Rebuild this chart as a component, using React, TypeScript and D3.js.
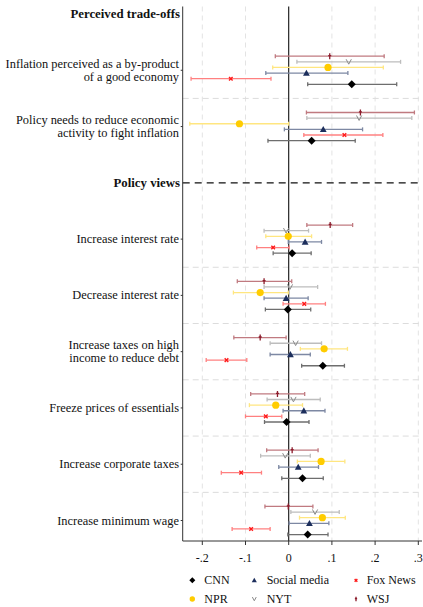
import * as d3 from 'd3';

// questions (rows 1-2 and 4-9; row 0 and 3 are section headers)
const questions = [
  ['Inflation perceived as a by-product', 'of a good economy'],
  ['Policy needs to reduce economic', 'activity to fight inflation'],
  ['Increase interest rate'],
  ['Decrease interest rate'],
  ['Increase taxes on high', 'income to reduce debt'],
  ['Freeze prices of essentials'],
  ['Increase corporate taxes'],
  ['Increase minimum wage'],
];
const questionRows = [1, 2, 4, 5, 6, 7, 8, 9];
const headers = [
  { row: 0, label: 'Perceived trade-offs' },
  { row: 3, label: 'Policy views' },
];
const separatorRows = [1.5, 4.5, 5.5, 6.5, 7.5, 8.5];
const xTicks = [-0.2, -0.1, 0, 0.1, 0.2, 0.3];
const xTickLabels = ['-.2', '-.1', '0', '.1', '.2', '.3'];

const wsjEst = [0.095, 0.166, 0.096, -0.057, -0.066, -0.026, 0.008, -0.001];
const wsjLo = [-0.031, 0.041, 0.042, -0.119, -0.127, -0.088, -0.051, -0.055];
const wsjHi = [0.221, 0.291, 0.148, 0.007, -0.006, 0.037, 0.068, 0.056];

const nytEst = [0.139, 0.163, -0.006, 0.003, 0.016, 0.011, -0.008, 0.061];
const nytLo = [0.019, 0.042, -0.057, -0.057, -0.043, -0.05, -0.065, 0.005];
const nytHi = [0.259, 0.285, 0.046, 0.067, 0.076, 0.073, 0.05, 0.117];

const nprEst = [0.091, -0.114, -0.001, -0.066, 0.082, -0.03, 0.075, 0.078];
const nprLo = [-0.037, -0.229, -0.053, -0.128, 0.027, -0.091, 0.02, 0.025];
const nprHi = [0.219, 0.0, 0.053, -0.001, 0.136, 0.032, 0.13, 0.131];

const socialEst = [0.041, 0.08, 0.038, -0.006, 0.004, 0.035, 0.022, 0.048];
const socialLo = [-0.053, -0.01, -0.001, -0.057, -0.043, -0.013, -0.023, 0.001];
const socialHi = [0.137, 0.171, 0.076, 0.045, 0.05, 0.084, 0.069, 0.093];

const foxEst = [-0.134, 0.129, -0.036, 0.036, -0.144, -0.053, -0.11, -0.087];
const foxLo = [-0.226, 0.035, -0.074, -0.013, -0.191, -0.1, -0.156, -0.131];
const foxHi = [-0.041, 0.218, 0.001, 0.085, -0.097, -0.016, -0.063, -0.043];

const cnnEst = [0.146, 0.053, 0.008, -0.002, 0.079, -0.005, 0.032, 0.044];
const cnnLo = [0.044, -0.048, -0.036, -0.054, 0.03, -0.056, -0.016, -0.002];
const cnnHi = [0.25, 0.154, 0.052, 0.051, 0.129, 0.047, 0.08, 0.091];

type Shape = 'diamond' | 'triangle' | 'x' | 'circle' | 'v' | 'plus';

const series: {
  name: string;
  est: number[];
  lo: number[];
  hi: number[];
  offset: number;
  color: string;
  ci: string;
  shape: Shape;
}[] = [
  { name: 'WSJ', est: wsjEst, lo: wsjLo, hi: wsjHi, offset: -0.25, color: '#8c1c2c', ci: '#c07a80', shape: 'plus' },
  { name: 'NYT', est: nytEst, lo: nytLo, hi: nytHi, offset: -0.15, color: '#8a8a8a', ci: '#bdbdbd', shape: 'v' },
  { name: 'NPR', est: nprEst, lo: nprLo, hi: nprHi, offset: -0.05, color: '#ffcc00', ci: '#ffe680', shape: 'circle' },
  { name: 'Social media', est: socialEst, lo: socialLo, hi: socialHi, offset: 0.05, color: '#1c2e5c', ci: '#7d88a3', shape: 'triangle' },
  { name: 'Fox News', est: foxEst, lo: foxLo, hi: foxHi, offset: 0.15, color: '#ff1a1a', ci: '#ff8080', shape: 'x' },
  { name: 'CNN', est: cnnEst, lo: cnnLo, hi: cnnHi, offset: 0.25, color: '#000000', ci: '#6e6e6e', shape: 'diamond' },
];

const legendOrder = ['CNN', 'Social media', 'Fox News', 'NPR', 'NYT', 'WSJ'];

const FONT = '"Liberation Serif", "DejaVu Serif", serif';

function Marker({ shape, cx, cy, color, s = 1 }: { shape: Shape; cx: number; cy: number; color: string; s?: number }) {
  switch (shape) {
    case 'diamond': {
      const r = 4 * s;
      return <path d={`M${cx},${cy - r}L${cx + r},${cy}L${cx},${cy + r}L${cx - r},${cy}Z`} fill={color} />;
    }
    case 'circle':
      return <circle cx={cx} cy={cy} r={3.6 * s} fill={color} />;
    case 'triangle': {
      const r = 3.4 * s;
      return <path d={`M${cx},${cy - r}L${cx + r},${cy + r * 0.8}L${cx - r},${cy + r * 0.8}Z`} fill={color} />;
    }
    case 'x': {
      const r = 1.8 * s;
      return (
        <path d={`M${cx - r},${cy - r}L${cx + r},${cy + r}M${cx - r},${cy + r}L${cx + r},${cy - r}`} stroke={color} strokeWidth={1.4} fill="none" />
      );
    }
    case 'v': {
      const r = 2.6 * s;
      return <path d={`M${cx - r},${cy - r}L${cx},${cy + r * 0.9}L${cx + r},${cy - r}`} stroke={color} strokeWidth={1} fill="none" />;
    }
    case 'plus': {
      const r = 3 * s;
      return (
        <path d={`M${cx},${cy - r}L${cx},${cy + r}M${cx - 1.5 * s},${cy - 0.6 * s}L${cx + 1.5 * s},${cy - 0.6 * s}`} stroke={color} strokeWidth={1.3} fill="none" />
      );
    }
  }
}

export default function App() {
  const W = 423;
  const H = 607;
  const x = d3.scaleLinear().domain([-0.2, 0.3]).range([202.3, 418.3]);
  const y = d3.scaleLinear().domain([0, 9]).range([14, 520.5]);
  const plotLeft = 182.7;
  const plotRight = 422;
  const plotTop = 6.5;
  const plotBottom = 541;
  const labelSize = 12.4;

  return (
    <svg width={W} height={H} style={{ position: 'absolute', left: 0, top: 0, background: '#fff' }} fontFamily={FONT}>
      <rect width={W} height={H} fill="#fff" />

      {/* vertical grid */}
      {xTicks
        .filter((t) => t !== 0)
        .map((t) => (
          <line key={t} x1={x(t)} x2={x(t)} y1={plotTop} y2={plotBottom} stroke="#e3e3e3" strokeWidth={1} strokeDasharray="5,4" />
        ))}

      {/* horizontal separators */}
      {separatorRows.map((r) => (
        <line key={r} x1={plotLeft} x2={plotRight} y1={y(r)} y2={y(r)} stroke="#dcdcdc" strokeWidth={1} strokeDasharray="6,4" />
      ))}

      {/* header line for policy views */}
      <line x1={plotLeft} x2={plotRight} y1={y(3)} y2={y(3)} stroke="#111" strokeWidth={1.2} strokeDasharray="7,5" />

      {/* zero line */}
      <line x1={x(0)} x2={x(0)} y1={plotTop} y2={plotBottom} stroke="#111" strokeWidth={1.1} />

      {/* CIs and markers */}
      {series.map((s) =>
        questionRows.map((row, i) => {
          const cy = y(row + s.offset);
          const x0 = x(s.lo[i]);
          const x1 = x(s.hi[i]);
          return (
            <g key={s.name + row}>
              <line x1={x0} x2={x1} y1={cy} y2={cy} stroke={s.ci} strokeWidth={1.3} />
              <line x1={x0} x2={x0} y1={cy - 2} y2={cy + 2} stroke={s.ci} strokeWidth={1.3} />
              <line x1={x1} x2={x1} y1={cy - 2} y2={cy + 2} stroke={s.ci} strokeWidth={1.3} />
              <Marker shape={s.shape} cx={x(s.est[i])} cy={cy} color={s.color} />
            </g>
          );
        })
      )}

      {/* axes */}
      <line x1={plotLeft} x2={plotLeft} y1={plotTop} y2={plotBottom} stroke="#333" strokeWidth={1} />
      <line x1={plotLeft} x2={plotRight} y1={plotBottom} y2={plotBottom} stroke="#333" strokeWidth={1} />
      {questionRows.map((r) => (
        <line key={r} x1={plotLeft - 2} x2={plotLeft} y1={y(r)} y2={y(r)} stroke="#333" strokeWidth={1} />
      ))}
      {xTicks.map((t, i) => (
        <g key={t}>
          <line x1={x(t)} x2={x(t)} y1={plotBottom} y2={plotBottom + 4} stroke="#333" strokeWidth={1} />
          <text x={x(t)} y={plotBottom + 21} textAnchor="middle" fontSize={12} fill="#111">
            {xTickLabels[i]}
          </text>
        </g>
      ))}

      {/* row labels */}
      {headers.map((h) => (
        <text key={h.label} x={180} y={y(h.row) + 4} textAnchor="end" fontSize={12.8} fontWeight="bold" fill="#111">
          {h.label}
        </text>
      ))}
      {questions.map((lines, i) => {
        const cy = y(questionRows[i]);
        const lh = 12.8;
        const start = cy - ((lines.length - 1) * lh) / 2;
        return (
          <text key={i} textAnchor="end" fontSize={labelSize} fill="#111">
            {lines.map((l, j) => (
              <tspan key={j} x={179} y={start + j * lh + 4}>
                {l}
              </tspan>
            ))}
          </text>
        );
      })}

      {/* legend */}
      {legendOrder.map((name, i) => {
        const s = series.find((d) => d.name === name)!;
        const col = i % 3;
        const rowI = Math.floor(i / 3);
        const mx = [192.3, 254.3, 356][col];
        const tx = [204.3, 266.7, 366.7][col];
        const ly = [583.3, 602][rowI];
        return (
          <g key={name}>
            <Marker shape={s.shape} cx={mx} cy={ly - 3} color={s.color} s={0.75} />
            <text x={tx} y={ly + 1} fontSize={12} fill="#111">
              {name}
            </text>
          </g>
        );
      })}
    </svg>
  );
}
